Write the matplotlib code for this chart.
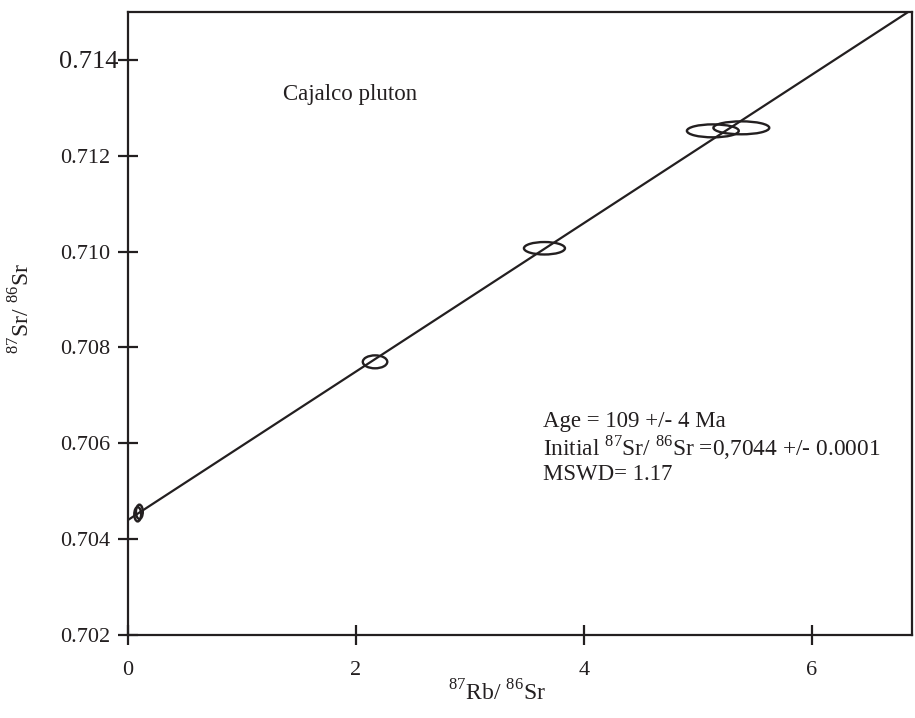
import matplotlib
matplotlib.use('Agg')
from matplotlib import pyplot as plt
from matplotlib.patches import Ellipse
from matplotlib.transforms import ScaledTranslation
import numpy as np

# measured samples: centre and full ellipse size (data units)
rb_sr = [0.085, 0.100, 2.167, 3.653, 5.130, 5.380]
sr_sr = [0.70452, 0.70457, 0.707700, 0.710070, 0.712520, 0.712583]
ell_w = [0.060, 0.060, 0.215, 0.360, 0.455, 0.490]
ell_h = [0.00030, 0.00030, 0.00027, 0.00026, 0.00027, 0.00027]

# isochron fit
initial_ratio = 0.7044
slope = 0.001549
x_fit = [0.0, 7.0]

x_ticks = [0, 2, 4, 6]
y_ticks = [0.702, 0.704, 0.706, 0.708, 0.710, 0.712, 0.714]

ink = '#231f20'
plt.rcParams['font.family'] = ['Liberation Serif', 'DejaVu Serif']
plt.rcParams['mathtext.fontset'] = 'custom'
plt.rcParams['mathtext.rm'] = 'Liberation Serif'
plt.rcParams['text.color'] = ink

fig = plt.figure(figsize=(9.15, 7.18), dpi=100)
ax = fig.add_axes([128/915, 1 - 635/718, 784/915, 623/718])

y_fit = [initial_ratio + slope * x for x in x_fit]
ax.plot(x_fit, y_fit, color=ink, lw=1.6)

for x, y, w, h in zip(rb_sr, sr_sr, ell_w, ell_h):
    ax.add_patch(Ellipse((x, y), w, h, fill=False, edgecolor=ink, lw=1.7))

ax.set_xlim(0, 6.877)
ax.set_ylim(0.702, 0.715)
ax.set_xticks(x_ticks)
ax.set_yticks(y_ticks)
ax.set_xticklabels([str(t) for t in x_ticks])
ax.set_yticklabels(['%.3f' % t for t in y_ticks])

for s in ax.spines.values():
    s.set_linewidth(1.6)
    s.set_color(ink)
ax.tick_params(axis='both', direction='inout', length=15, width=1.6,
               color=ink, labelcolor=ink, labelsize=16)
ax.tick_params(axis='x', pad=11)
ax.tick_params(axis='y', pad=5)

# the top label is printed bigger in the original
top = ax.get_yticklabels()[-1]
top.set_fontsize(19)
top.set_transform(top.get_transform() + ScaledTranslation(0.08, 0, fig.dpi_scale_trans))

ax.text(0.198, 0.867, 'Cajalco pluton', transform=ax.transAxes,
        fontsize=16.5, va='center', ha='left')
ax.text(0.529, 0.342, 'Age = 109 +/- 4 Ma', transform=ax.transAxes,
        fontsize=16.5, va='center', ha='left')
ax.text(0.529, 0.300, r'Initial $^{87}$Sr/ $^{86}$Sr =0,7044 +/- 0.0001',
        transform=ax.transAxes, fontsize=16.8, va='center', ha='left')
ax.text(0.529, 0.257, 'MSWD= 1.17', transform=ax.transAxes,
        fontsize=16.5, va='center', ha='left')

fig.text(497/915, 1 - 693/718, r'$^{87}$Rb/ $^{86}$Sr', fontsize=17,
         ha='center', va='center')
fig.text(22/915, 1 - 308/718, r'$^{87}$Sr/ $^{86}$Sr', fontsize=17,
         ha='center', va='center', rotation=90)

fig.savefig('out.png', dpi=100)
